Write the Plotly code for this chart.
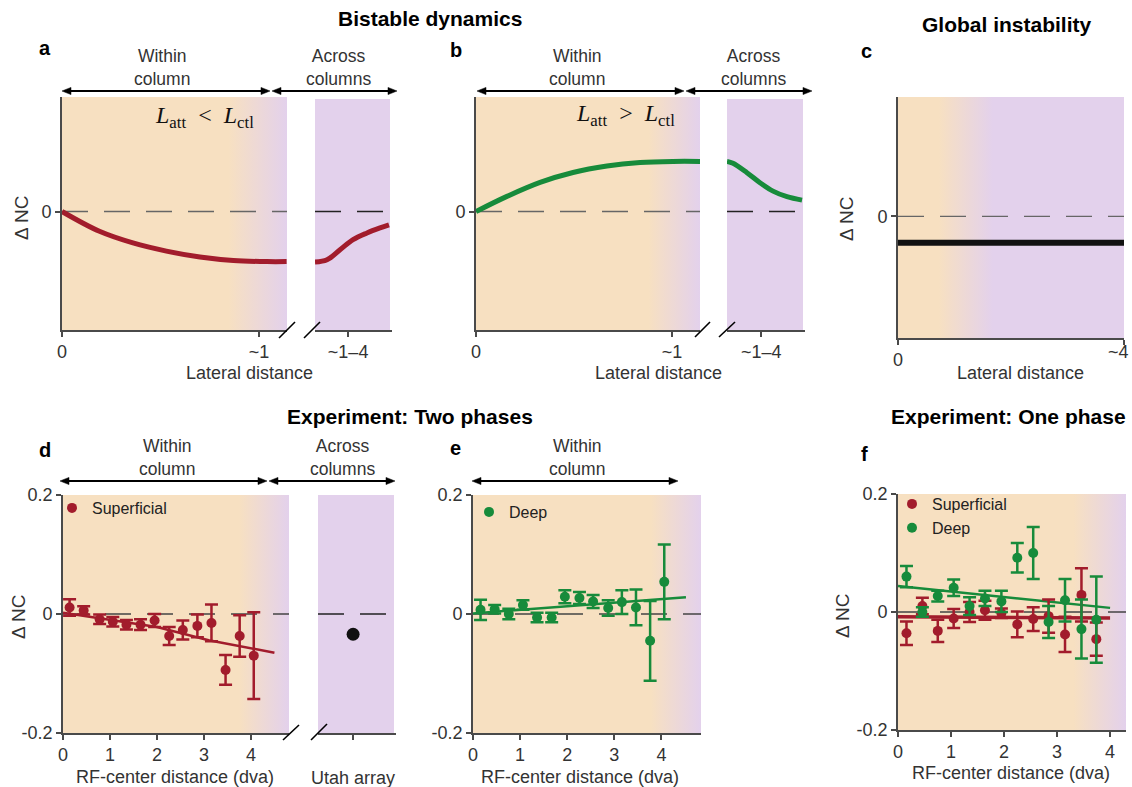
import base64
import plotly.graph_objects as go

W, H = 1132, 787
def PX(x): return x / W
def PY(y): return 1 - y / H

RED = '#a21c2c'
GREEN = '#178b3b'
PEACH = '#f7e0c1'
LAV = '#e3d1ec'
AXC = '#4a4a4a'
TXT = '#333333'
FONT = 'Liberation Sans, Arial, sans-serif'

# ---------------- data ----------------
# a: bistable dynamics, L_att < L_ctl
A_WITHIN_X = [0, 0.19, 0.36, 0.53, 0.70, 0.87, 1.04, 1.14]
A_WITHIN_Y = [0, -0.17, -0.27, -0.34, -0.39, -0.42, -0.43, -0.43]
A_ACROSS_X = [0, 0.156, 0.325, 0.494, 0.675, 0.844, 0.961]
A_ACROSS_Y = [-0.434, -0.414, -0.328, -0.241, -0.184, -0.141, -0.115]
# b: bistable dynamics, L_att > L_ctl
B_WITHIN_X = [0, 0.158, 0.327, 0.495, 0.668, 0.837, 1.005, 1.143]
B_WITHIN_Y = [0, 0.13, 0.25, 0.335, 0.39, 0.42, 0.43, 0.43]
B_ACROSS_X = [0, 0.077, 0.256, 0.423, 0.59, 0.769, 0.962]
B_ACROSS_Y = [0.43, 0.414, 0.333, 0.247, 0.175, 0.127, 0.098]
# c: global instability
C_X = [0, 4]
C_Y = [-0.22, -0.22]

# d: two phases, superficial
D_X = [0.14, 0.44, 0.78, 1.06, 1.35, 1.65, 1.95, 2.26, 2.55, 2.86, 3.16, 3.46, 3.76, 4.06]
D_SUP = [0.011, 0.006, -0.009, -0.013, -0.018, -0.018, -0.011, -0.037, -0.027, -0.020, -0.015, -0.094, -0.037, -0.070]
D_SUP_ERR = [0.014, 0.007, 0.008, 0.008, 0.008, 0.009, 0.011, 0.015, 0.016, 0.019, 0.031, 0.025, 0.035, 0.073]
D_FIT_X = [0, 2.0, 3.1, 4.5]
D_FIT_Y = [0.002, -0.022, -0.044, -0.065]
UTAH_LABEL = ['Utah array']
UTAH_VAL = [-0.034]

# e: two phases, deep
E_X = [0.16, 0.46, 0.76, 1.06, 1.36, 1.67, 1.95, 2.26, 2.55, 2.87, 3.16, 3.46, 3.76, 4.06]
E_DEEP = [0.007, 0.008, 0.0, 0.015, -0.006, -0.006, 0.029, 0.027, 0.021, 0.010, 0.020, 0.011, -0.045, 0.054]
E_DEEP_ERR = [0.017, 0.007, 0.009, 0.008, 0.008, 0.008, 0.011, 0.010, 0.011, 0.013, 0.020, 0.030, 0.067, 0.063]
E_FIT_X = [0, 4.52]
E_FIT_Y = [0.001, 0.028]

# f: one phase
F_X = [0.16, 0.46, 0.75, 1.05, 1.35, 1.64, 1.95, 2.25, 2.55, 2.84, 3.15, 3.46, 3.74]
F_SUP = [-0.036, 0.010, -0.032, -0.011, 0.0, 0.003, -0.002, -0.021, -0.012, -0.007, -0.038, 0.029, -0.046]
F_SUP_ERR = [0.020, 0.014, 0.019, 0.016, 0.017, 0.016, 0.008, 0.022, 0.020, 0.028, 0.030, 0.045, 0.028]
F_DEEP = [0.060, 0.0, 0.027, 0.041, 0.010, 0.023, 0.018, 0.092, 0.100, -0.017, 0.020, -0.029, -0.013]
F_DEEP_ERR = [0.018, 0.008, 0.009, 0.014, 0.015, 0.013, 0.018, 0.025, 0.044, 0.027, 0.036, 0.050, 0.073]
F_FIT_X = [0, 4]
F_SUP_FIT = [-0.008, -0.010]
F_DEEP_FIT = [0.044, 0.007]

NC_TICKS = [-0.2, 0, 0.2]
NC_TICKTEXT = ['-0.2', '0', '0.2']
DVA_TICKS = [0, 1, 2, 3, 4]

fig = go.Figure()

tickfont = dict(family=FONT, size=18, color=TXT)

def axis_pair(n, xdom, ydom, xrange, yrange, xt, xtt, yt=None, ytt=None, show_y=True, xtype='linear'):
    xs = 'xaxis' if n == 1 else f'xaxis{n}'
    ys = 'yaxis' if n == 1 else f'yaxis{n}'
    xid = 'x' if n == 1 else f'x{n}'
    yid = 'y' if n == 1 else f'y{n}'
    xa = dict(domain=[PX(xdom[0]), PX(xdom[1])], range=xrange, anchor=yid, type=xtype,
              showline=True, linecolor=AXC, linewidth=1.6, ticks='outside', ticklen=5,
              tickwidth=1.5, tickcolor=AXC, showgrid=False, zeroline=False, automargin=False,
              ticklabeloverflow='allow',
              tickmode='array', tickvals=xt, ticktext=xtt, tickfont=tickfont, fixedrange=True)
    if show_y:
        ya = dict(domain=[PY(ydom[1]), PY(ydom[0])], range=yrange, anchor=xid,
                  showline=True, linecolor=AXC, linewidth=1.6, ticks='outside', ticklen=5,
                  tickwidth=1.5, tickcolor=AXC, showgrid=False, zeroline=False, automargin=False,
                  tickmode='array', tickvals=yt, ticktext=ytt, tickfont=tickfont, fixedrange=True)
    else:
        ya = dict(domain=[PY(ydom[1]), PY(ydom[0])], range=yrange, anchor=xid,
                  visible=False, fixedrange=True)
    fig.update_layout({xs: xa, ys: ya})
    return xid, yid

TOP = (97, 330)
A_YR = [-1.017, 0.983]
axis_pair(1, (62, 287), TOP, [0, 1.142], A_YR, [0, 1], ['0', '~1'], [0], ['0'])
axis_pair(2, (315, 392), TOP, [0, 1], A_YR, [0.43], ['~1–4'], show_y=False)
axis_pair(3, (476, 700), TOP, [0, 1.143], A_YR, [0, 1], ['0', '~1'], [0], ['0'])
axis_pair(4, (727, 805), TOP, [0, 1], A_YR, [0.44], ['~1–4'], show_y=False)
# the "~4" label of panel c sits at the figure edge, so it is placed as an annotation below
axis_pair(5, (898, 1124), (97, 338), [0, 4], [-1.01, 0.99], [0, 4], ['0', ' '], [0], ['0'])
BOT = (495, 733)
axis_pair(6, (63, 289), BOT, [0, 4.81], [-0.2, 0.2], DVA_TICKS, [str(v) for v in DVA_TICKS], NC_TICKS, NC_TICKTEXT)
axis_pair(7, (318, 396), BOT, [-0.45, 0.55], [-0.2, 0.2], UTAH_LABEL, UTAH_LABEL, show_y=False, xtype='category')
fig.layout.xaxis7.ticklabelstandoff = 23
axis_pair(8, (473, 701), BOT, [0, 4.84], [-0.2, 0.2], DVA_TICKS, [str(v) for v in DVA_TICKS], NC_TICKS, NC_TICKTEXT)
axis_pair(9, (898, 1126), (494, 730), [0, 4.30], [-0.2, 0.2], DVA_TICKS, [str(v) for v in DVA_TICKS], NC_TICKS, NC_TICKTEXT)

# ---------------- shaded backgrounds ----------------
def grad_uri(stops):
    st = ''.join(f"<stop offset='{o}' stop-color='{c}'/>" for o, c in stops)
    svg = ("<svg xmlns='http://www.w3.org/2000/svg' width='200' height='200' viewBox='0 0 200 200' "
           "preserveAspectRatio='none'><defs><linearGradient id='g' x1='0' y1='0' x2='1' y2='0'>"
           f"{st}</linearGradient></defs><rect x='0' y='0' width='200' height='200' fill='url(#g)'/></svg>")
    return 'data:image/svg+xml;base64,' + base64.b64encode(svg.encode()).decode()

boxes = [
    ((62, 97, 287, 330), [(0, PEACH), (0.74, PEACH), (1, LAV)]),
    ((315, 99, 390, 330), [(0, LAV), (1, LAV)]),
    ((476, 97, 700, 330), [(0, PEACH), (0.77, PEACH), (1, LAV)]),
    ((727, 99, 803, 330), [(0, LAV), (1, LAV)]),
    ((898, 97, 1124, 338), [(0, PEACH), (0.18, PEACH), (0.42, LAV), (1, LAV)]),
    ((63, 495, 289, 733), [(0, PEACH), (0.78, PEACH), (1, LAV)]),
    ((318, 495, 394, 733), [(0, LAV), (1, LAV)]),
    ((473, 495, 701, 733), [(0, PEACH), (0.78, PEACH), (1, LAV)]),
    ((898, 494, 1126, 730), [(0, PEACH), (0.77, PEACH), (1, LAV)]),
]
images = []
for (x0, y0, x1, y1), stops in boxes:
    images.append(dict(source=grad_uri(stops), xref='paper', yref='paper', x=PX(x0), y=PY(y0),
                       sizex=(x1 - x0) / W, sizey=(y1 - y0) / H, xanchor='left', yanchor='top',
                       sizing='stretch', layer='below'))

# ---------------- zero lines ----------------
shapes = []
for n, col in [(1, '#666666'), (2, '#222222'), (3, '#666666'), (4, '#222222'), (5, '#666666'),
               (6, '#444444'), (7, '#222222'), (8, '#444444'), (9, '#444444')]:
    xid = 'x' if n == 1 else f'x{n}'
    yid = 'y' if n == 1 else f'y{n}'
    shapes.append(dict(type='line', xref=f'{xid} domain', yref=yid, x0=0, x1=1, y0=0, y1=0,
                       line=dict(color=col, width=1.3, dash='26px,16px'), layer='below'))

# break marks
for (x0, y0, x1, y1) in [(279, 338, 295, 322), (304, 338, 320, 322),
                         (695, 337, 710, 322), (719, 337, 735, 322),
                         (283, 740, 299, 725), (311, 740, 327, 724)]:
    shapes.append(dict(type='line', xref='paper', yref='paper', x0=PX(x0), y0=PY(y0),
                       x1=PX(x1), y1=PY(y1), line=dict(color='black', width=1.6)))

# double-headed arrows (line + two filled heads)
HL, HW = 9, 3.6
for x0, x1, y in [(62, 270, 91), (272, 397, 91), (477, 684, 91), (686, 812, 91),
                  (60, 267, 481), (269, 395, 481), (472, 678, 481)]:
    shapes.append(dict(type='line', xref='paper', yref='paper', x0=PX(x0 + 3), x1=PX(x1 - 3),
                       y0=PY(y), y1=PY(y), line=dict(color='black', width=1.8)))
    for tip, base in [(x0, x0 + HL), (x1, x1 - HL)]:
        path = (f'M {PX(tip):.6f},{PY(y):.6f} L {PX(base):.6f},{PY(y - HW):.6f} '
                f'L {PX(base):.6f},{PY(y + HW):.6f} Z')
        shapes.append(dict(type='path', xref='paper', yref='paper', path=path,
                           fillcolor='black', line=dict(color='black', width=0.5)))

# ---------------- traces ----------------
def line(x, y, xa, ya, color, width, shape='spline'):
    fig.add_trace(go.Scatter(x=x, y=y, mode='lines', line=dict(color=color, width=width, shape=shape),
                             xaxis=xa, yaxis=ya, showlegend=False, hoverinfo='skip'))

line(A_WITHIN_X, A_WITHIN_Y, 'x', 'y', RED, 5)
line(A_ACROSS_X, A_ACROSS_Y, 'x2', 'y2', RED, 5)
line(B_WITHIN_X, B_WITHIN_Y, 'x3', 'y3', GREEN, 5)
line(B_ACROSS_X, B_ACROSS_Y, 'x4', 'y4', GREEN, 5)
line(C_X, C_Y, 'x5', 'y5', '#111111', 6, 'linear')

def points(x, y, err, xa, ya, color, name, legend):
    fig.add_trace(go.Scatter(x=x, y=y, mode='markers', name=name, legend=legend,
                             marker=dict(color=color, size=10),
                             error_y=dict(type='data', array=err, color=color, thickness=2.5, width=6.5),
                             xaxis=xa, yaxis=ya))

line(D_FIT_X, D_FIT_Y, 'x6', 'y6', RED, 2.5, 'linear')
points(D_X, D_SUP, D_SUP_ERR, 'x6', 'y6', RED, 'Superficial', 'legend')
fig.add_trace(go.Scatter(x=UTAH_LABEL, y=UTAH_VAL, mode='markers', marker=dict(color='#111111', size=13),
                         xaxis='x7', yaxis='y7', showlegend=False))

line(E_FIT_X, E_FIT_Y, 'x8', 'y8', GREEN, 2.5, 'linear')
points(E_X, E_DEEP, E_DEEP_ERR, 'x8', 'y8', GREEN, 'Deep', 'legend2')

line(F_FIT_X, F_SUP_FIT, 'x9', 'y9', RED, 3.5, 'linear')
line(F_FIT_X, F_DEEP_FIT, 'x9', 'y9', GREEN, 2.5, 'linear')
points(F_X, F_SUP, F_SUP_ERR, 'x9', 'y9', RED, 'Superficial', 'legend3')
points(F_X, F_DEEP, F_DEEP_ERR, 'x9', 'y9', GREEN, 'Deep', 'legend3')

# ---------------- annotations ----------------
ann = []
def text(x, y, s, size=18, color=TXT, bold=False, angle=0, family=FONT, xanchor='center'):
    ann.append(dict(x=PX(x), y=PY(y), xref='paper', yref='paper', text=f'<b>{s}</b>' if bold else s,
                    showarrow=False, font=dict(family=family, size=size, color=color),
                    xanchor=xanchor, yanchor='middle', textangle=angle))

text(430, 19, 'Bistable dynamics', 21, 'black', True)
text(1007, 24, 'Global instability', 21, 'black', True)
text(410, 416, 'Experiment: Two phases', 21, 'black', True)
text(1008, 416, 'Experiment: One phase', 21, 'black', True)
for x, y, s in [(45, 48, 'a'), (456, 50, 'b'), (866, 51, 'c'), (45, 450, 'd'), (455, 448, 'e'), (864, 454, 'f')]:
    text(x, y, s, 20, 'black', True)

for cx, cy in [(162, 67), (577, 67), (167, 457), (577, 457)]:
    text(cx, cy, 'Within<br>column', 17.5)
for cx, cy in [(338, 67), (753, 67), (342, 457)]:
    text(cx, cy, 'Across<br>columns', 17.5)

text(1131, 352, '~4', 18, TXT, xanchor='right')

text(250, 373, 'Lateral distance')
text(658, 373, 'Lateral distance')
text(1020, 373, 'Lateral distance')
text(175, 777, 'RF-center distance (dva)')
text(580, 777, 'RF-center distance (dva)')
text(1011, 773, 'RF-center distance (dva)')

for x, y in [(21, 218), (846, 219), (18, 617), (842, 616)]:
    text(x, y, 'Δ NC', 19, TXT, angle=-90)

SERIF = 'Liberation Serif, DejaVu Serif, serif'
text(204, 117, '<i>L</i><sub>att</sub>&nbsp;&nbsp;&lt;&nbsp;&nbsp;<i>L</i><sub>ctl</sub>', 24, '#111111', family=SERIF)
text(625, 115, '<i>L</i><sub>att</sub>&nbsp;&nbsp;&gt;&nbsp;&nbsp;<i>L</i><sub>ctl</sub>', 24, '#111111', family=SERIF)

legend_style = dict(bgcolor='rgba(0,0,0,0)', borderwidth=0, font=dict(family=FONT, size=16, color='#222222'),
                    xanchor='left', yanchor='top', xref='paper', yref='paper', tracegroupgap=0,
                    itemclick=False, itemdoubleclick=False)

fig.update_layout(
    width=W, height=H, margin=dict(l=0, r=0, t=0, b=0, pad=0, autoexpand=False),
    paper_bgcolor='white', plot_bgcolor='rgba(0,0,0,0)',
    font=dict(family=FONT, color=TXT),
    images=images, shapes=shapes, annotations=ann, showlegend=True,
    legend=dict(x=PX(52), y=PY(491), **legend_style),
    legend2=dict(x=PX(469), y=PY(495), **legend_style),
    legend3=dict(x=PX(892), y=PY(487), **legend_style),
)

fig.write_html('out.html', config={'displayModeBar': False, 'staticPlot': False},
               post_script="document.body.style.margin='0px';document.body.style.overflow='hidden';")
